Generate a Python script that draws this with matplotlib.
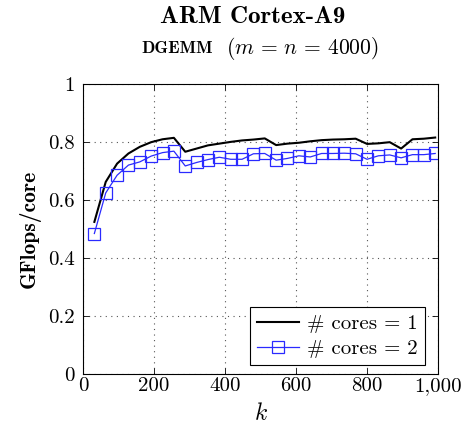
import matplotlib
matplotlib.use("Agg")
import matplotlib.pyplot as plt

plt.rcParams['font.family'] = ['cmr10', 'DejaVu Serif']
plt.rcParams['mathtext.fontset'] = 'cm'
plt.rcParams['axes.unicode_minus'] = False

# problem size k
k = [32 * (i + 1) for i in range(31)]
# GFlops per core, 1 core
cores1 = [0.525, 0.663, 0.726, 0.761, 0.784, 0.800, 0.810, 0.815, 0.767, 0.778,
          0.789, 0.795, 0.801, 0.806, 0.809, 0.813, 0.790, 0.795, 0.798, 0.803,
          0.807, 0.809, 0.810, 0.812, 0.794, 0.796, 0.800, 0.778, 0.810, 0.812,
          0.816]
# GFlops per core, 2 cores
cores2 = [0.485, 0.625, 0.686, 0.721, 0.732, 0.752, 0.764, 0.769, 0.718, 0.730,
          0.740, 0.748, 0.741, 0.741, 0.760, 0.761, 0.738, 0.744, 0.753, 0.749,
          0.761, 0.761, 0.762, 0.760, 0.741, 0.753, 0.756, 0.746, 0.757, 0.757,
          0.761]

xticks = [0, 200, 400, 600, 800, 1000]
xticklabels = ['0', '200', '400', '600', '800', '1,000']
yticks = [0, 0.2, 0.4, 0.6, 0.8, 1]
yticklabels = ['0', '0.2', '0.4', '0.6', '0.8', '1']

fig = plt.figure(figsize=(4.65, 4.34), dpi=100)
ax = fig.add_axes([0.1785, 0.138, 0.7635, 0.668])

ax.plot(k, cores1, color='black', lw=1.5, label='# cores = 1')
ax.plot(k, cores2, color='#2a2aff', lw=0.9, marker='s', ms=8, mfc='none',
        mec='#2a2aff', mew=0.9, label='# cores = 2')

ax.set_xlim(0, 1000)
ax.set_ylim(0, 1)
ax.set_xticks(xticks)
ax.set_xticklabels(xticklabels, fontsize=15)
ax.set_yticks(yticks)
ax.set_yticklabels(yticklabels, fontsize=15)
ax.tick_params(direction='in', top=True, right=True, length=4, width=0.6)
ax.tick_params(axis='x', pad=2)
ax.tick_params(axis='y', pad=6)
ax.grid(True, linestyle=(0, (1, 4)), color='#555555', lw=0.8)
for s in ax.spines.values():
    s.set_linewidth(0.8)

ax.set_xlabel('$k$', fontsize=17, labelpad=6)
ax.set_ylabel('GFlops/core', fontsize=15.5, labelpad=5, family='cmb10')

leg = ax.legend(loc='lower right', bbox_to_anchor=(0.963, 0.031),
                borderaxespad=0, fontsize=15, fancybox=False, framealpha=1,
                edgecolor='black', handlelength=2.0, handletextpad=0.4,
                borderpad=0.35, labelspacing=0.3)
leg.get_frame().set_linewidth(0.8)

fig.text(0.544, 0.961, 'ARM Cortex-A9', ha='center', va='center',
         fontsize=18, family='cmb10')
fig.text(0.458, 0.889, 'DGEMM', ha='right', va='center', fontsize=12.5,
         family='cmb10')
fig.text(0.486, 0.889, r'$(m\,=\,n\,=\,4000)$', ha='left', va='center',
         fontsize=15.5)

fig.savefig('out.png', dpi=100)
